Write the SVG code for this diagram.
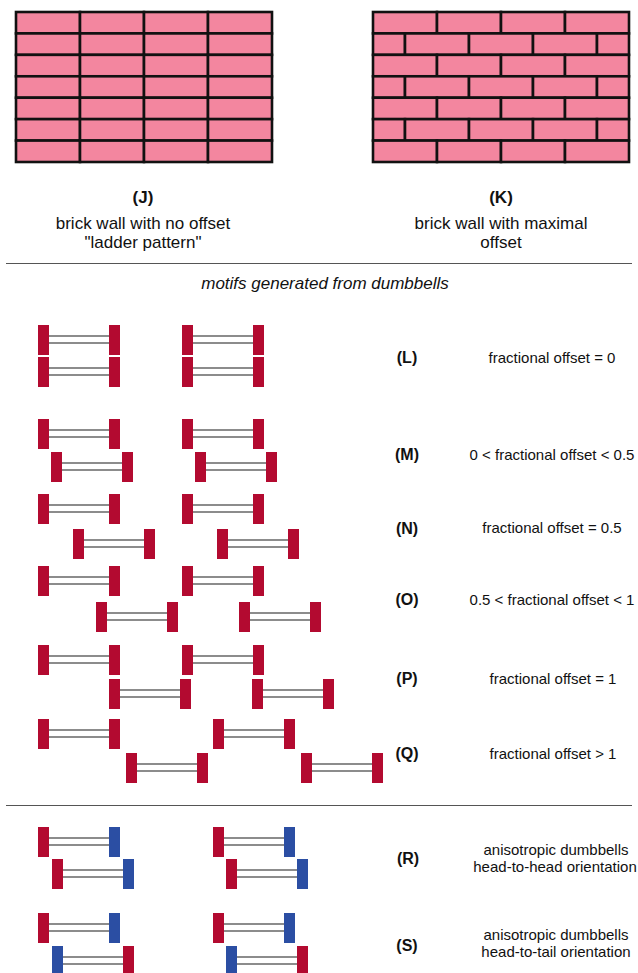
<svg xmlns="http://www.w3.org/2000/svg" xmlns:xlink="http://www.w3.org/1999/xlink" width="638" height="973" viewBox="0 0 638 973">
  <style>
    .brick { fill: #f3869f; stroke: #111; stroke-width: 2.6; }
    .red { fill: #b30a30; }
    .blue { fill: #2b4ea3; }
    .rod { stroke: #666; stroke-width: 1.6; }
    .rule { stroke: #555; stroke-width: 1.2; }
    .t { font-family: "Liberation Sans", Arial, sans-serif; fill: #111; text-anchor: middle; }
    .cap { font-size: 17px; }
    .lbl { font-size: 16px; font-weight: bold; }
    .desc { font-size: 15px; }
    .head { font-size: 17px; font-style: italic; }
  </style>
  <defs>
    <!-- dumbbell: two end bars joined by a double rod -->
    <g id="rods">
      <line class="rod" x1="11" y1="11" x2="71" y2="11"/>
      <line class="rod" x1="11" y1="18" x2="71" y2="18"/>
    </g>
    <g id="db-rr">
      <use xlink:href="#rods"/>
      <rect class="red" x="0" y="0" width="11" height="30"/>
      <rect class="red" x="71" y="0" width="11" height="30"/>
    </g>
    <g id="db-rb">
      <use xlink:href="#rods"/>
      <rect class="red" x="0" y="0" width="11" height="30"/>
      <rect class="blue" x="71" y="0" width="11" height="30"/>
    </g>
    <g id="db-br">
      <use xlink:href="#rods"/>
      <rect class="blue" x="0" y="0" width="11" height="30"/>
      <rect class="red" x="71" y="0" width="11" height="30"/>
    </g>
    <!-- brick rows: plain row and half-offset row -->
    <g id="row-full">
      <rect class="brick" x="0" y="0" width="64" height="21.43"/>
      <rect class="brick" x="64" y="0" width="64" height="21.43"/>
      <rect class="brick" x="128" y="0" width="64" height="21.43"/>
      <rect class="brick" x="192" y="0" width="64" height="21.43"/>
    </g>
    <g id="row-half">
      <rect class="brick" x="0" y="0" width="32" height="21.43"/>
      <rect class="brick" x="32" y="0" width="64" height="21.43"/>
      <rect class="brick" x="96" y="0" width="64" height="21.43"/>
      <rect class="brick" x="160" y="0" width="64" height="21.43"/>
      <rect class="brick" x="224" y="0" width="32" height="21.43"/>
    </g>
  </defs>

  <!-- brick wall J: stacked bond -->
  <g id="wall-J">
    <use xlink:href="#row-full" x="16" y="12"/>
    <use xlink:href="#row-full" x="16" y="33.43"/>
    <use xlink:href="#row-full" x="16" y="54.86"/>
    <use xlink:href="#row-full" x="16" y="76.29"/>
    <use xlink:href="#row-full" x="16" y="97.71"/>
    <use xlink:href="#row-full" x="16" y="119.14"/>
    <use xlink:href="#row-full" x="16" y="140.57"/>
    <text class="t lbl" x="143" y="203" style="font-size:17px">(J)</text>
    <text class="t cap" x="143" y="229">brick wall with no offset</text>
    <text class="t cap" x="143" y="248">"ladder pattern"</text>
  </g>

  <!-- brick wall K: running bond -->
  <g id="wall-K">
    <use xlink:href="#row-full" x="373" y="12"/>
    <use xlink:href="#row-half" x="373" y="33.43"/>
    <use xlink:href="#row-full" x="373" y="54.86"/>
    <use xlink:href="#row-half" x="373" y="76.29"/>
    <use xlink:href="#row-full" x="373" y="97.71"/>
    <use xlink:href="#row-half" x="373" y="119.14"/>
    <use xlink:href="#row-full" x="373" y="140.57"/>
    <text class="t lbl" x="501" y="203" style="font-size:17px">(K)</text>
    <text class="t cap" x="501" y="229">brick wall with maximal</text>
    <text class="t cap" x="501" y="248">offset</text>
  </g>

  <!-- section dividers -->
  <g id="connectors">
    <line class="rule" x1="6" y1="263.5" x2="632" y2="263.5"/>
    <line class="rule" x1="6" y1="805.5" x2="632" y2="805.5"/>
  </g>

  <text class="t head" x="325" y="289">motifs generated from dumbbells</text>

  <g id="motif-L">
    <use xlink:href="#db-rr" x="38" y="325"/>
    <use xlink:href="#db-rr" x="182" y="325"/>
    <use xlink:href="#db-rr" x="38" y="357"/>
    <use xlink:href="#db-rr" x="182" y="357"/>
    <text class="t lbl" x="407" y="363">(L)</text>
    <text class="t desc" x="552" y="363">fractional offset = 0</text>
  </g>

  <g id="motif-M">
    <use xlink:href="#db-rr" x="38" y="419"/>
    <use xlink:href="#db-rr" x="182" y="419"/>
    <use xlink:href="#db-rr" x="51" y="452"/>
    <use xlink:href="#db-rr" x="195" y="452"/>
    <text class="t lbl" x="407" y="460">(M)</text>
    <text class="t desc" x="552" y="460">0 &lt; fractional offset &lt; 0.5</text>
  </g>

  <g id="motif-N">
    <use xlink:href="#db-rr" x="38" y="494"/>
    <use xlink:href="#db-rr" x="182" y="494"/>
    <use xlink:href="#db-rr" x="73" y="529"/>
    <use xlink:href="#db-rr" x="217" y="529"/>
    <text class="t lbl" x="407" y="534">(N)</text>
    <text class="t desc" x="552" y="533">fractional offset = 0.5</text>
  </g>

  <g id="motif-O">
    <use xlink:href="#db-rr" x="38" y="566"/>
    <use xlink:href="#db-rr" x="182" y="566"/>
    <use xlink:href="#db-rr" x="96" y="602"/>
    <use xlink:href="#db-rr" x="239" y="602"/>
    <text class="t lbl" x="407" y="605">(O)</text>
    <text class="t desc" x="552" y="605">0.5 &lt; fractional offset &lt; 1</text>
  </g>

  <g id="motif-P">
    <use xlink:href="#db-rr" x="38" y="645"/>
    <use xlink:href="#db-rr" x="182" y="645"/>
    <use xlink:href="#db-rr" x="109" y="679"/>
    <use xlink:href="#db-rr" x="252" y="679"/>
    <text class="t lbl" x="407" y="684">(P)</text>
    <text class="t desc" x="553" y="684">fractional offset = 1</text>
  </g>

  <g id="motif-Q">
    <use xlink:href="#db-rr" x="38" y="719"/>
    <use xlink:href="#db-rr" x="213" y="719"/>
    <use xlink:href="#db-rr" x="126" y="753"/>
    <use xlink:href="#db-rr" x="301" y="753"/>
    <text class="t lbl" x="407" y="759">(Q)</text>
    <text class="t desc" x="553" y="759">fractional offset &gt; 1</text>
  </g>

  <g id="motif-R">
    <use xlink:href="#db-rb" x="38" y="827"/>
    <use xlink:href="#db-rb" x="213" y="827"/>
    <use xlink:href="#db-rb" x="52" y="859"/>
    <use xlink:href="#db-rb" x="226" y="859"/>
    <text class="t lbl" x="408" y="864">(R)</text>
    <text class="t desc" x="556" y="855">anisotropic dumbbells</text>
    <text class="t desc" x="555" y="872">head-to-head orientation</text>
  </g>

  <g id="motif-S">
    <use xlink:href="#db-rb" x="38" y="913"/>
    <use xlink:href="#db-rb" x="213" y="913"/>
    <use xlink:href="#db-br" x="52" y="946"/>
    <use xlink:href="#db-br" x="226" y="946"/>
    <text class="t lbl" x="407" y="951">(S)</text>
    <text class="t desc" x="556" y="940">anisotropic dumbbells</text>
    <text class="t desc" x="556" y="957">head-to-tail orientation</text>
  </g>
</svg>
